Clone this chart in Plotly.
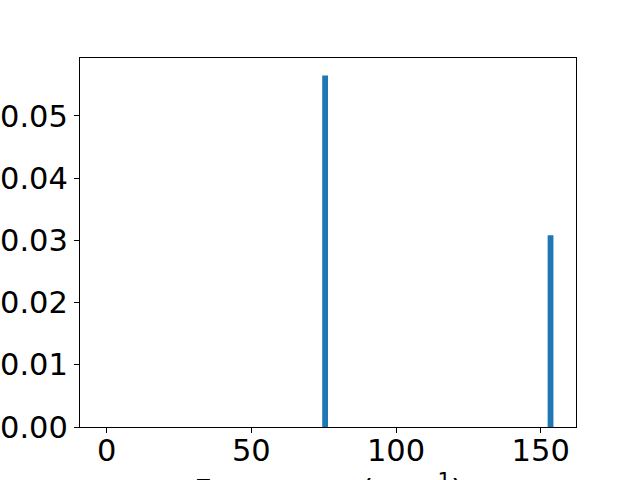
import plotly.graph_objects as go

frequencies = [75.5, 153.4]
intensities = [0.0565, 0.0308]
x_ticks = [0, 50, 100, 150]
y_ticks = [0.00, 0.01, 0.02, 0.03, 0.04, 0.05]

fig = go.Figure()
fig.add_trace(go.Bar(x=frequencies, y=intensities, width=2.0,
                     marker=dict(color="#1f77b4", line=dict(width=0))))

font = dict(family="DejaVu Sans", size=30.5, color="black")
fig.update_layout(
    width=640, height=480,
    margin=dict(l=80, r=64, t=58, b=53),
    paper_bgcolor="white", plot_bgcolor="white",
    font=font, showlegend=False,
    xaxis=dict(range=[-9.2, 162.2], tickvals=x_ticks, ticks="outside", ticklen=5,
               tickwidth=1, tickcolor="black", showline=True, linecolor="black",
               linewidth=1, mirror=True, showgrid=False, zeroline=False,
               automargin=False, tickfont=font, ticklabelstandoff=-9),
    yaxis=dict(range=[0, 0.0593], tickvals=y_ticks, tickformat=".2f", ticks="outside",
               ticklen=5, tickwidth=1, tickcolor="black", showline=True,
               linecolor="black", linewidth=1, mirror=True, showgrid=False,
               zeroline=False, automargin=False, tickfont=font),
    annotations=[dict(text="Frequency (cm<sup>\u22121</sup>)", xref="paper", yref="paper",
                      x=0.5, y=-0.105, xanchor="center", yanchor="top",
                      showarrow=False, font=font)],
)

fig.write_html("out.html", config={"displayModeBar": False},
               post_script="document.body.style.margin='0';document.body.style.overflow='hidden';")
